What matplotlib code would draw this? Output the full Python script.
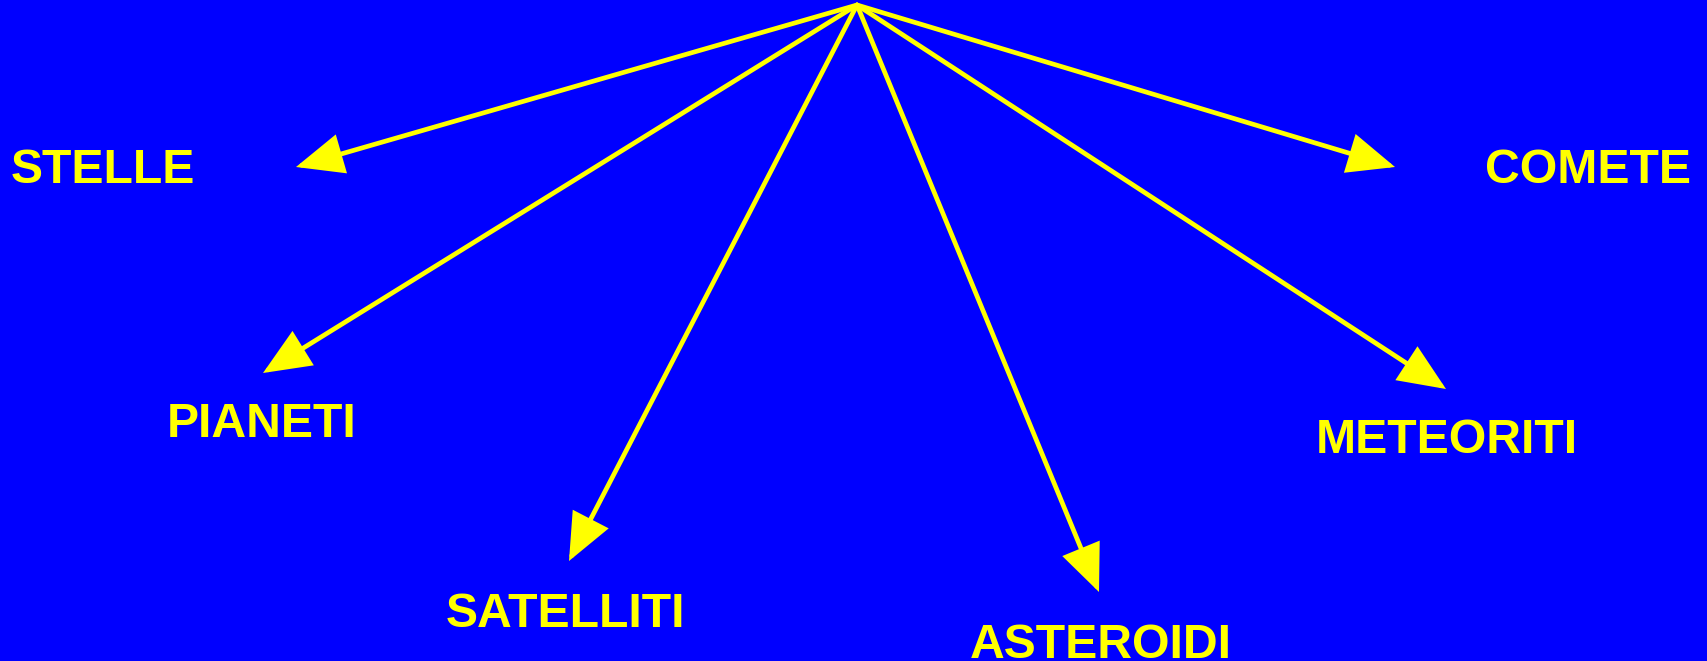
import matplotlib
matplotlib.use("Agg")
import matplotlib.pyplot as plt
from matplotlib.patches import FancyArrowPatch, ArrowStyle

labels = ["STELLE", "PIANETI", "SATELLITI", "ASTEROIDI", "METEORITI", "COMETE"]
# label left x and baseline y (pixels, top-left origin)
label_x = [11, 167, 446, 970, 1316, 1485]
label_y = [183, 437, 627, 658, 453, 183]
# arrow tips
tip_x = [296, 263, 569, 1099, 1446, 1395]
tip_y = [167, 373, 561, 592, 389, 167]
origin = (857, 5)

W, H = 1707, 661
fig = plt.figure(figsize=(W / 100, H / 100), dpi=100)
fig.patch.set_facecolor("#0000FF")
ax = fig.add_axes([0, 0, 1, 1])
ax.set_facecolor("#0000FF")
ax.set_xlim(0, W)
ax.set_ylim(H, 0)
ax.axis("off")

style = ArrowStyle("-|>", head_length=28, head_width=12)
for tx, ty in zip(tip_x, tip_y):
    ar = FancyArrowPatch(origin, (tx, ty), arrowstyle=style, mutation_scale=1,
                         color="#FFFF00", lw=3.4, shrinkA=0, shrinkB=0,
                         joinstyle="miter")
    ax.add_patch(ar)

for lab, x, y in zip(labels, label_x, label_y):
    ax.text(x, y, lab, color="#FFFF00", fontsize=34.7, fontweight="bold",
            family="Liberation Sans", ha="left", va="baseline")

fig.savefig("out.png", dpi=100, facecolor=fig.get_facecolor())
